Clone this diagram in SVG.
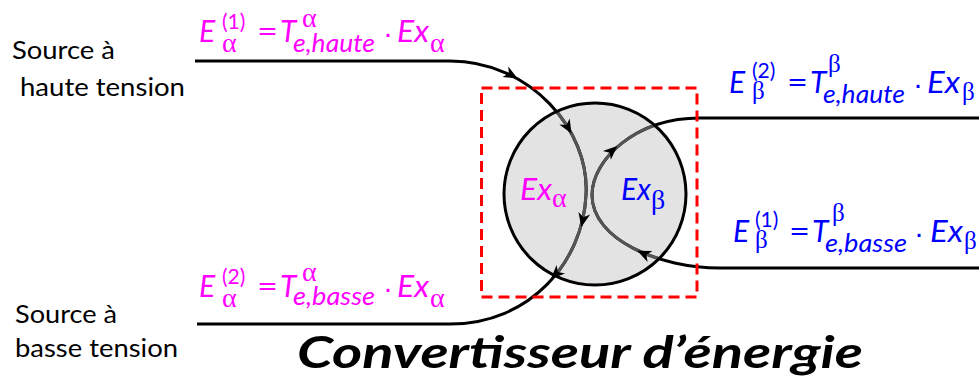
<svg xmlns="http://www.w3.org/2000/svg" width="979" height="389" viewBox="0 0 979 389">
<style>
  .lbl{font-family:Lato,"Open Sans",sans-serif;font-size:25px;fill:#000}
  .it{font-family:Lato,"Open Sans",sans-serif;font-style:italic;font-size:30px}
  .up{font-family:Lato,"Open Sans",sans-serif;font-size:30px}
  .sup{font-family:Lato,"Open Sans",sans-serif;font-size:21px}
  .sub{font-family:Lato,"Open Sans",sans-serif;font-style:italic;font-size:26px}
  .gr{font-family:"Liberation Serif","DejaVu Serif",serif;font-size:28px}
  .grb{font-family:"Liberation Serif","DejaVu Serif",serif;font-size:25px}
  .dot{font-family:"Liberation Sans",sans-serif;font-size:30px}
  .m{fill:#ff00ff}
  .b{fill:#0000ff}
  .wire{fill:none;stroke:#000;stroke-width:3}
  .inner{fill:none;stroke:#555;stroke-width:3}
  .title{font-family:Lato,"Open Sans",sans-serif;font-weight:bold;font-style:italic;font-size:43px;fill:#000}
</style>
<defs>
  <path id="ah" d="M3,0 L-11,-6 L-7,0 L-11,6 Z" fill="#000"/>
  <clipPath id="cc"><circle cx="595" cy="194" r="89.5"/></clipPath>
</defs>

<g id="src-haute">
  <text class="lbl" x="12" y="59" textLength="103" lengthAdjust="spacingAndGlyphs">Source à</text>
  <text class="lbl" x="20" y="96" textLength="165" lengthAdjust="spacingAndGlyphs">haute tension</text>
</g>
<g id="src-basse">
  <text class="lbl" x="15" y="323" textLength="102" lengthAdjust="spacingAndGlyphs">Source à</text>
  <text class="lbl" x="15" y="357" textLength="163" lengthAdjust="spacingAndGlyphs">basse tension</text>
</g>

<g id="converter">
  <circle cx="595" cy="194" r="91" fill="#e3e3e3" stroke="#000" stroke-width="3"/>
  <text class="it m" x="520" y="200" textLength="32" lengthAdjust="spacingAndGlyphs">Ex</text>
  <text class="gr m" x="552" y="207">α</text>
  <text class="it b" x="621" y="200" textLength="30" lengthAdjust="spacingAndGlyphs">Ex</text>
  <text class="gr b" x="651" y="209">β</text>
</g>

<g id="connectors">
  <path id="alpha" class="wire" d="M195,61 H450 C530,61 590,130 586,195 C583,262 530,324 450,324 H197"/>
  <path id="beta" class="wire" d="M979,268 H720 C660,268 592,240 592,195 C592,160 635,118 700,118 H979"/>
  <g clip-path="url(#cc)">
    <path class="inner" d="M195,61 H450 C530,61 590,130 586,195 C583,262 530,324 450,324 H197"/>
    <path class="inner" d="M979,268 H720 C660,268 592,240 592,195 C592,160 635,118 700,118 H979"/>
  </g>
  <use href="#ah" transform="translate(515,77) rotate(29)"/>
  <use href="#ah" transform="translate(570,131) rotate(60)"/>
  <use href="#ah" transform="translate(582,224) rotate(102)"/>
  <use href="#ah" transform="translate(553,277) rotate(135)"/>
  <use href="#ah" transform="translate(640,252) rotate(204)"/>
  <use href="#ah" transform="translate(615,148) rotate(-42)"/>
</g>

<g id="boundary">
  <rect x="481.5" y="88" width="215.5" height="209" fill="none" stroke="#ff0000" stroke-width="3" stroke-dasharray="11,6"/>
</g>

<g id="label-alpha1">
  <text class="it m" x="199" y="42">E</text>
  <text class="sup m" x="222" y="29">(1)</text>
  <text class="gr m" x="222" y="52">α</text>
  <text class="up m" x="257" y="42" textLength="21" lengthAdjust="spacingAndGlyphs">=</text>
  <text class="it m" x="280" y="42">T</text>
  <text class="gr m" x="302" y="27">α</text>
  <text class="sub m" x="293" y="52" textLength="82" lengthAdjust="spacingAndGlyphs">e,haute</text>
  <text class="dot m" x="388" y="43" text-anchor="middle">·</text>
  <text class="it m" x="397" y="42" textLength="32" lengthAdjust="spacingAndGlyphs">Ex</text>
  <text class="gr m" x="430" y="52">α</text>
</g>

<g id="label-alpha2">
  <text class="it m" x="199" y="297">E</text>
  <text class="sup m" x="222" y="284">(2)</text>
  <text class="gr m" x="222" y="307">α</text>
  <text class="up m" x="257" y="297" textLength="21" lengthAdjust="spacingAndGlyphs">=</text>
  <text class="it m" x="280" y="297">T</text>
  <text class="gr m" x="302" y="281">α</text>
  <text class="sub m" x="293" y="305" textLength="82" lengthAdjust="spacingAndGlyphs">e,basse</text>
  <text class="dot m" x="388" y="298" text-anchor="middle">·</text>
  <text class="it m" x="397" y="297" textLength="32" lengthAdjust="spacingAndGlyphs">Ex</text>
  <text class="gr m" x="430" y="307">α</text>
</g>

<g id="label-beta2">
  <text class="it b" x="729" y="93">E</text>
  <text class="sup b" x="752" y="78">(2)</text>
  <text class="grb b" x="752" y="99">β</text>
  <text class="up b" x="787" y="93" textLength="21" lengthAdjust="spacingAndGlyphs">=</text>
  <text class="it b" x="810" y="93">T</text>
  <text class="grb b" x="828" y="72">β</text>
  <text class="sub b" x="823" y="103" textLength="82" lengthAdjust="spacingAndGlyphs">e,haute</text>
  <text class="dot b" x="918" y="94" text-anchor="middle">·</text>
  <text class="it b" x="927" y="93" textLength="33" lengthAdjust="spacingAndGlyphs">Ex</text>
  <text class="grb b" x="962" y="100">β</text>
</g>

<g id="label-beta1">
  <text class="it b" x="733" y="242">E</text>
  <text class="sup b" x="755" y="227">(1)</text>
  <text class="grb b" x="755" y="248">β</text>
  <text class="up b" x="789" y="242" textLength="21" lengthAdjust="spacingAndGlyphs">=</text>
  <text class="it b" x="812" y="242">T</text>
  <text class="grb b" x="832" y="221">β</text>
  <text class="sub b" x="825" y="252" textLength="82" lengthAdjust="spacingAndGlyphs">e,basse</text>
  <text class="dot b" x="919" y="243" text-anchor="middle">·</text>
  <text class="it b" x="930" y="242" textLength="33" lengthAdjust="spacingAndGlyphs">Ex</text>
  <text class="grb b" x="964" y="249">β</text>
</g>

<text class="title" x="297" y="368" textLength="566" lengthAdjust="spacingAndGlyphs">Convertisseur d’énergie</text>
</svg>
